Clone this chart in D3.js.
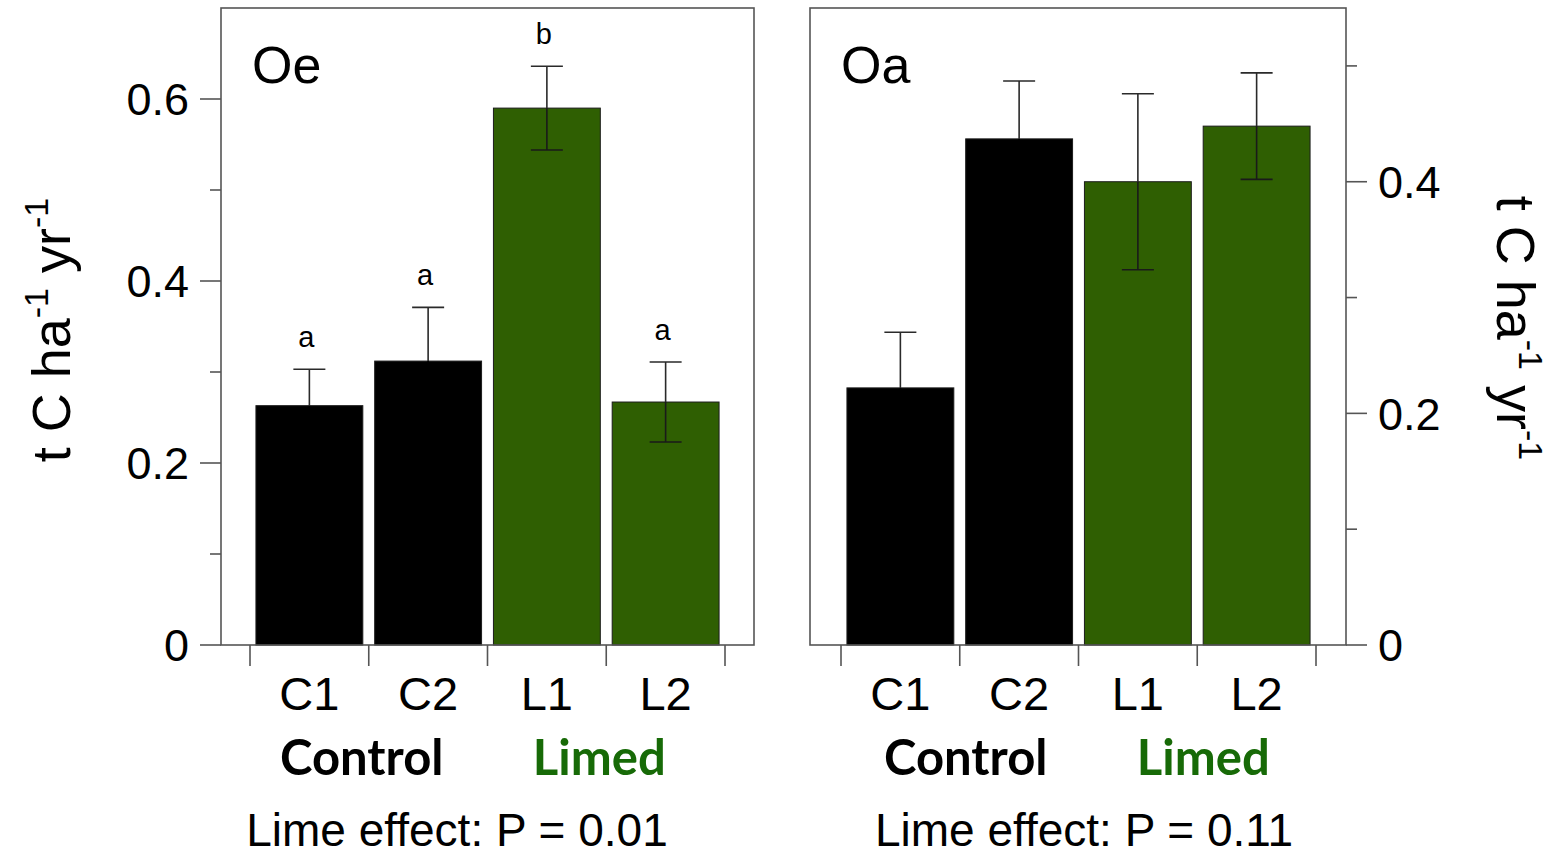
<!DOCTYPE html>
<html>
<head>
<meta charset="utf-8">
<script src="https://cdn.jsdelivr.net/npm/d3@7"></script>
<style>
  body { margin: 0; background: #fff; }
  svg { display: block; }
</style>
</head>
<body>
<div id="chart"></div>
<script>
// data
const groups = ['C1', 'C2', 'L1', 'L2'];
const treatments = ['Control', 'Control', 'Limed', 'Limed'];
const oeMean = [0.263, 0.312, 0.590, 0.267];
const oeSE = [0.040, 0.059, 0.046, 0.044];
const oeLetters = ['a', 'a', 'b', 'a'];
const oaMean = [0.222, 0.437, 0.400, 0.448];
const oaSE = [0.048, 0.050, 0.076, 0.046];
const oeMajor = [0, 0.2, 0.4, 0.6];
const oaMajor = [0, 0.2, 0.4];
const minorTicks = [0.1, 0.3, 0.5];
const pValues = ['0.01', '0.11'];

const W = 1559, H = 859;
const colorOf = { Control: '#000000', Limed: '#2f5f02' };
const labelColor = { Control: '#000000', Limed: '#176a07' };
const sans = '"Liberation Sans", Arial, sans-serif';
const bold = 'Lato, "Open Sans", sans-serif';

const svg = d3.select('#chart').append('svg')
  .attr('width', W)
  .attr('height', H);

const yTop = 8, yBottom = 645;

function drawPanel(p) {
  const g = svg.append('g');
  const x = d3.scaleBand().domain(groups).range(p.band)
    .paddingInner(0.1).paddingOuter(0.05);
  const y = d3.scaleLinear().domain([0, p.max]).range([yBottom, yTop]);

  // bars
  g.selectAll('rect.bar')
    .data(groups)
    .join('rect')
    .attr('class', 'bar')
    .attr('x', d => x(d))
    .attr('width', x.bandwidth())
    .attr('y', (d, i) => y(p.mean[i]))
    .attr('height', (d, i) => yBottom - y(p.mean[i]))
    .attr('fill', (d, i) => colorOf[treatments[i]])
    .attr('stroke', '#1c1c1c')
    .attr('stroke-width', 1);

  // error bars (the lower half disappears into the black bars)
  const cap = 16;
  const err = g.append('g').attr('stroke-width', 1.6).attr('fill', 'none');
  groups.forEach((d, i) => {
    const cx = x(d) + x.bandwidth() / 2;
    const mid = y(p.mean[i]);
    const hi = y(p.mean[i] + p.se[i]);
    const lo = y(p.mean[i] - p.se[i]);
    err.append('path').attr('stroke', '#2a2a2a')
      .attr('d', `M${cx},${mid}V${hi}M${cx - cap},${hi}H${cx + cap}`);
    err.append('path').attr('stroke', treatments[i] === 'Control' ? '#000' : '#1a1a1a')
      .attr('d', `M${cx},${mid}V${lo}M${cx - cap},${lo}H${cx + cap}`);
  });

  // significance letters
  if (p.letters) {
    g.selectAll('text.sig')
      .data(groups)
      .join('text')
      .attr('class', 'sig')
      .attr('x', d => x(d) + x.bandwidth() / 2 - 3)
      .attr('y', (d, i) => y(p.mean[i] + p.se[i]) - 22)
      .attr('text-anchor', 'middle')
      .style('font', `29px ${sans}`)
      .text((d, i) => p.letters[i]);
  }

  // frame
  g.append('rect')
    .attr('x', p.frame[0])
    .attr('y', yTop)
    .attr('width', p.frame[1] - p.frame[0])
    .attr('height', yBottom - yTop)
    .attr('fill', 'none')
    .attr('stroke', '#555')
    .attr('stroke-width', 1.6);

  // y axis
  const ax = p.side === 'left' ? p.frame[0] : p.frame[1];
  const dir = p.side === 'left' ? -1 : 1;
  const axG = g.append('g').attr('stroke', '#555').attr('stroke-width', 1.6);
  p.major.forEach(v => {
    axG.append('line').attr('x1', ax).attr('x2', ax + dir * 21).attr('y1', y(v)).attr('y2', y(v));
  });
  minorTicks.forEach(v => {
    axG.append('line').attr('x1', ax).attr('x2', ax + dir * 11).attr('y1', y(v)).attr('y2', y(v));
  });
  g.selectAll('text.tick')
    .data(p.major)
    .join('text')
    .attr('class', 'tick')
    .attr('x', ax + dir * 32)
    .attr('y', d => y(d))
    .attr('dy', '0.36em')
    .attr('text-anchor', p.side === 'left' ? 'end' : 'start')
    .style('font', `45px ${sans}`)
    .text(d => d === 0 ? '0' : d3.format('.1f')(d));

  // x ticks at group boundaries
  const bounds = d3.range(groups.length + 1).map(i => p.band[0] + i * x.step());
  bounds.forEach(bx => {
    axG.append('line').attr('x1', bx).attr('x2', bx).attr('y1', yBottom).attr('y2', yBottom + 21);
  });

  g.selectAll('text.cat')
    .data(groups)
    .join('text')
    .attr('class', 'cat')
    .attr('x', d => x(d) + x.bandwidth() / 2)
    .attr('y', 710)
    .attr('text-anchor', 'middle')
    .style('font', `47px ${sans}`)
    .text(d => d);

  // treatment labels
  ['Control', 'Limed'].forEach((t, k) => {
    g.append('text')
      .attr('x', bounds[2 * k + 1] + p.shift)
      .attr('y', 775)
      .attr('text-anchor', 'middle')
      .attr('fill', labelColor[t])
      .style('font', `bold 49px ${bold}`)
      .text(t);
  });

  // panel title
  g.append('text')
    .attr('x', p.frame[0] + 31)
    .attr('y', 83)
    .style('font', `52px ${sans}`)
    .text(p.title);

  // p-value line
  g.append('text')
    .attr('x', p.pX)
    .attr('y', 846)
    .attr('text-anchor', 'middle')
    .style('font', `46px ${sans}`)
    .text(`Lime effect: P = ${p.p}`);

  return y;
}

drawPanel({ title: 'Oe', mean: oeMean, se: oeSE, letters: oeLetters, major: oeMajor,
  max: 0.7, frame: [221, 754], band: [250, 725], side: 'left', p: pValues[0], pX: 457, shift: -7 });
drawPanel({ title: 'Oa', mean: oaMean, se: oaSE, letters: null, major: oaMajor,
  max: 0.55, frame: [810, 1346], band: [841, 1316], side: 'right', p: pValues[1], pX: 1084, shift: 6 });

// axis titles with superscripts
function unitLabel(sel) {
  sel.style('font', `54px ${sans}`);
  sel.append('tspan').text('t C ha');
  sel.append('tspan').attr('dy', -22).style('font-size', '34px').text('-1');
  sel.append('tspan').attr('dy', 22).text(' yr');
  sel.append('tspan').attr('dy', -22).style('font-size', '34px').text('-1');
}
svg.append('text')
  .attr('transform', 'translate(70,330) rotate(-90)')
  .attr('text-anchor', 'middle')
  .call(unitLabel);
svg.append('text')
  .attr('transform', 'translate(1497,328) rotate(90)')
  .attr('text-anchor', 'middle')
  .call(unitLabel);
</script>
</body>
</html>
